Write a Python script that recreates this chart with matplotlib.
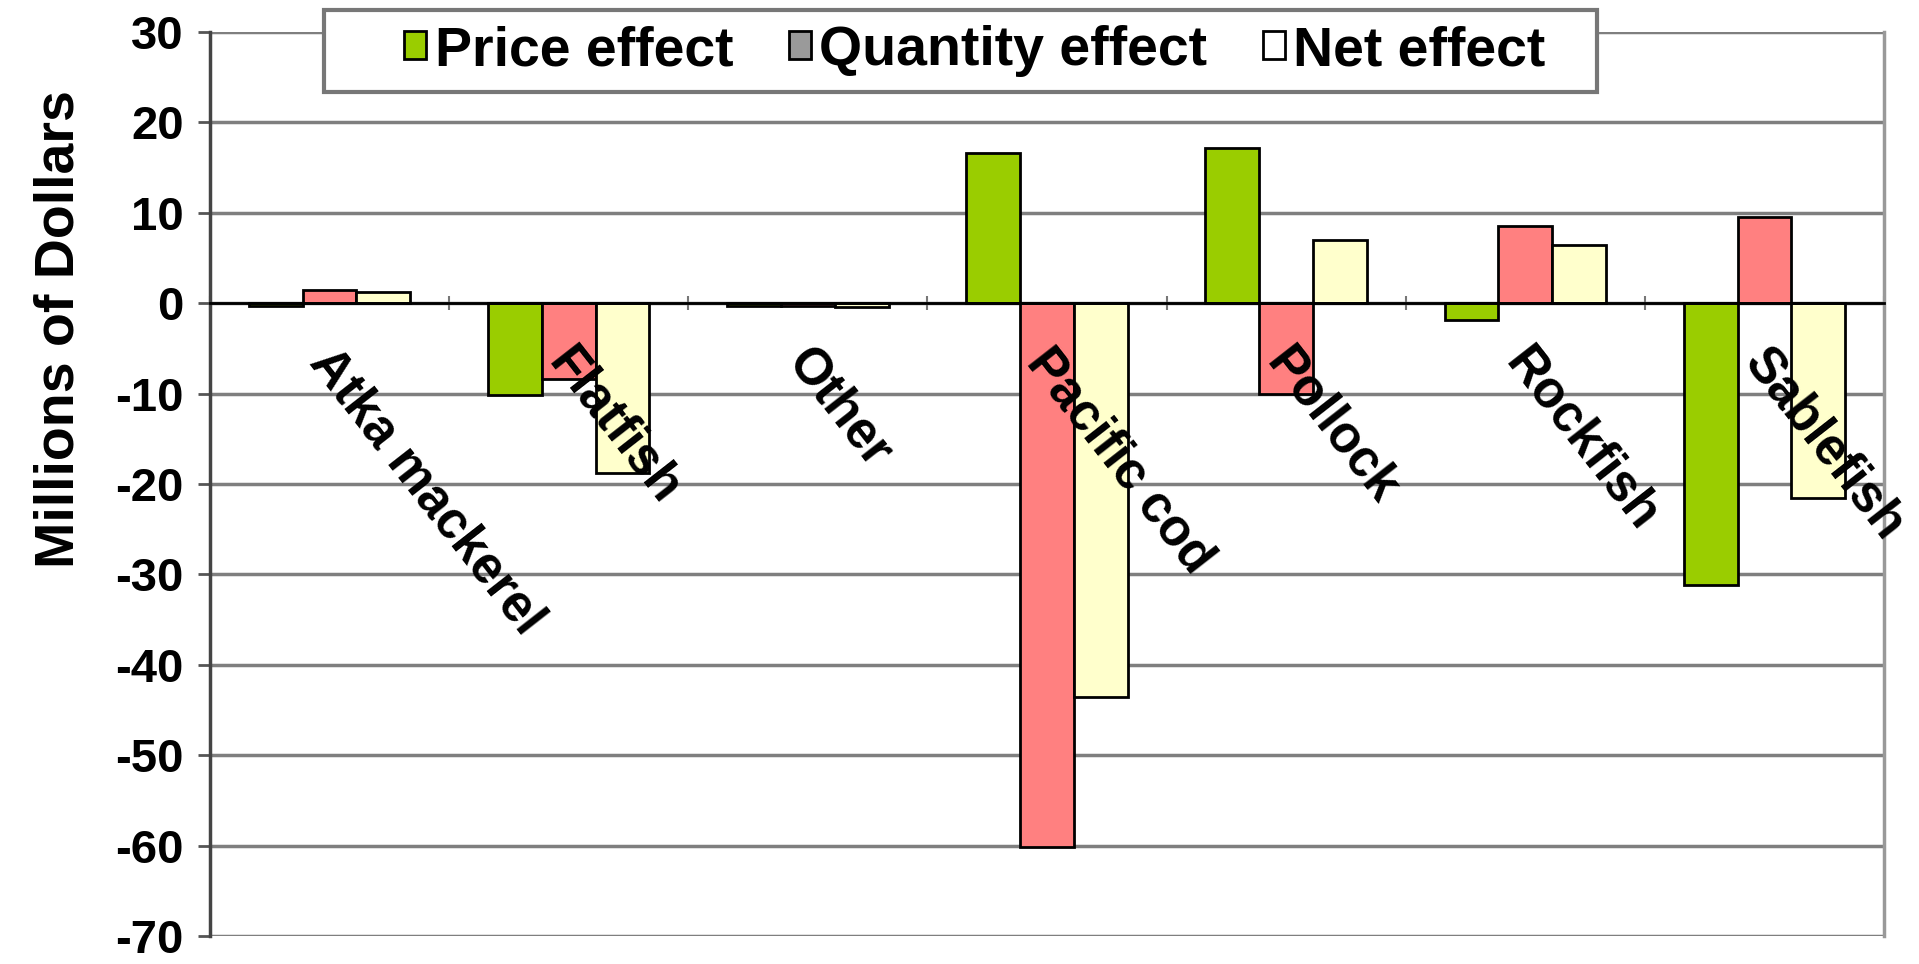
import numpy as np
import matplotlib.pyplot as plt
from matplotlib.patches import Patch, Rectangle

plt.rcParams['font.family'] = ['Liberation Sans', 'DejaVu Sans']
plt.rcParams['axes.unicode_minus'] = False

# datos (millones de dolares)
species = ["Atka mackerel", "Flatfish", "Other", "Pacific cod",
           "Pollock", "Rockfish", "Sablefish"]
price_effect = [-0.3, -10.2, -0.3, 16.6, 17.2, -1.9, -31.2]
quantity_effect = [1.5, -8.4, -0.3, -60.1, -10.1, 8.5, 9.5]
net_effect = [1.2, -18.8, -0.4, -43.6, 7.0, 6.4, -21.6]
series_names = ["Price effect", "Quantity effect", "Net effect"]
y_ticks = [30, 20, 10, 0, -10, -20, -30, -40, -50, -60, -70]

colores = ["#9ACD00", "#FF8080", "#FFFFCC"]
colores_leyenda = ["#9ACD00", "#9A9A9A", "#FFFFFF"]

fig = plt.figure(figsize=(19.19, 9.64), dpi=100)
ax = fig.add_axes([0.1094, 0.029, 0.9818 - 0.1094, 0.967 - 0.029])

x = np.arange(len(species))
ancho = 0.225
for k, serie in enumerate([price_effect, quantity_effect, net_effect]):
    ax.bar(x + (k - 1) * ancho, serie, width=ancho, color=colores[k],
           edgecolor="black", linewidth=2, zorder=3)

ax.set_xlim(-0.5, len(species) - 0.5)
ax.set_ylim(-70, 30)
ax.set_yticks(y_ticks)
ax.tick_params(axis="y", labelsize=34, length=9, width=2, pad=10, color="#555555")
for t in ax.get_yticklabels():
    t.set_fontweight("bold")
ax.yaxis.grid(True, color="#7f7f7f", linewidth=2.5, zorder=0)

# eje x cruzando en cero, con marcas entre categorias
ax.spines["bottom"].set_position(("data", 0))
ax.spines["bottom"].set_linewidth(2)
ax.spines["bottom"].set_color("black")
ax.spines["bottom"].set_zorder(4)
ax.set_xticks(np.arange(len(species) + 1) - 0.5)
ax.set_xticklabels([])
ax.tick_params(axis="x", direction="inout", length=10, width=1.5, color="#777777")
ax.spines["left"].set_linewidth(2.5)
ax.spines["left"].set_color("#444444")
ax.spines["top"].set_visible(False)
ax.spines["right"].set_color("#999999")
ax.spines["right"].set_linewidth(2.5)

for i, nombre in enumerate(species):
    ax.annotate(nombre, xy=(i + 0.035, 0), xytext=(0, -26), textcoords="offset points",
                rotation=-52, rotation_mode="anchor", ha="left", va="top",
                fontsize=37, fontweight="bold", zorder=5)

fig.text(0.031, 0.659, "Millions of Dollars", rotation=90, ha="center", va="center",
         fontsize=40, fontweight="bold")

# marco de la leyenda (mas ancho que las entradas)
marco = Rectangle((0.1688, 0.9046), 0.8322 - 0.1688, 0.9896 - 0.9046,
                  transform=fig.transFigure, facecolor="white", edgecolor="#777777",
                  linewidth=3, zorder=5)
fig.patches.append(marco)

manijas = [Patch(facecolor=c, edgecolor="black", linewidth=2) for c in colores_leyenda]
leg = fig.legend(manijas, series_names, loc="center", bbox_to_anchor=(0.508, 0.947),
                 ncol=3, prop={"weight": "bold", "size": 40},
                 handlelength=0.4, handleheight=0.4, handletextpad=0.15,
                 columnspacing=1.0, borderpad=0.2, borderaxespad=0,
                 frameon=False)
leg.set_zorder(6)

fig.savefig("out.png", dpi=100, facecolor="white")
